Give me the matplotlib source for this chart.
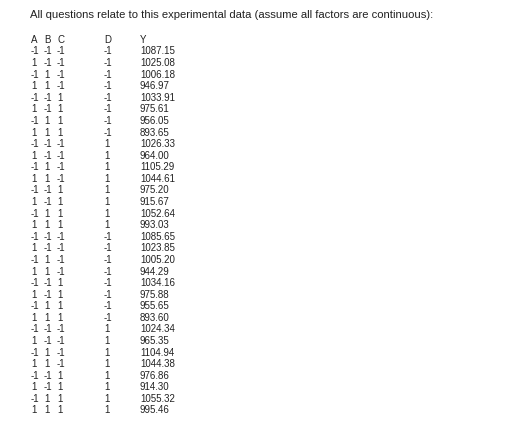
import matplotlib
matplotlib.use("Agg")
import matplotlib.pyplot as plt

title = "All questions relate to this experimental data (assume all factors are continuous):"
headers = ["A", "B", "C", "D", "Y"]
A = [-1, 1, -1, 1, -1, 1, -1, 1] * 4
B = [-1, -1, 1, 1, -1, -1, 1, 1] * 4
C = [-1, -1, -1, -1, 1, 1, 1, 1] * 4
D = [-1]*8 + [1]*8 + [-1]*8 + [1]*8
Y = [1087.15, 1025.08, 1006.18, 946.97, 1033.91, 975.61, 956.05, 893.65,
     1026.33, 964.00, 1105.29, 1044.61, 975.20, 915.67, 1052.64, 993.03,
     1085.65, 1023.85, 1005.20, 944.29, 1034.16, 975.88, 955.65, 893.60,
     1024.34, 965.35, 1104.94, 1044.38, 976.86, 914.30, 1055.32, 995.46]

W, H = 519, 421
fig = plt.figure(figsize=(W/100, H/100), dpi=100)
fs = 7.0
kw = dict(family=["Liberation Sans", "DejaVu Sans"], color="#222222", va="center", ha="left")

def t(x, y, s, size=fs):
    fig.text(x / W, 1 - y / H, s, fontsize=size, **kw)

t(30, 15, title, size=8.1)
xs = [31, 44, 57, 104, 140]
for x, h in zip(xs, headers):
    t(x, 40, h)
row0, step = 51.5, 11.58
for i in range(len(Y)):
    y = row0 + i * step
    for x, v in zip(xs[:4], (A[i], B[i], C[i], D[i])):
        t(x, y, str(v))
    t(xs[4], y, f"{Y[i]:.2f}")

fig.savefig("out.png", dpi=100)
